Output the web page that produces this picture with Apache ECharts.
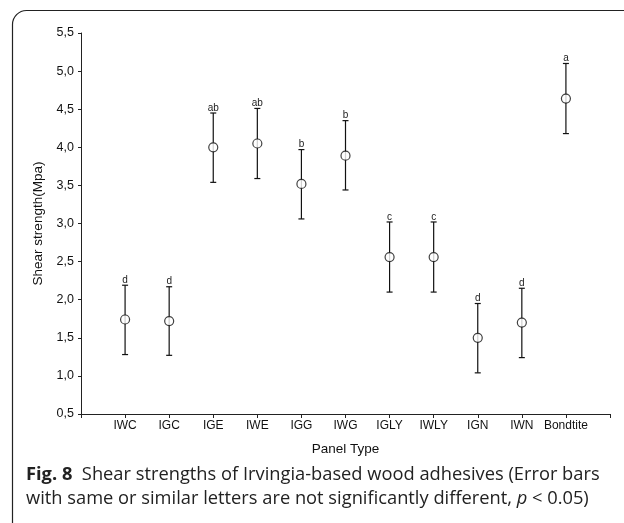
<!DOCTYPE html>
<html><head><meta charset="utf-8">
<script src="https://cdn.jsdelivr.net/npm/echarts@6/dist/echarts.min.js"></script>
<style>html,body{margin:0;padding:0;background:#fff}#c{width:624px;height:523px}</style>
</head><body><div id="c"></div>
<script>
const categories = ['IWC','IGC','IGE','IWE','IGG','IWG','IGLY','IWLY','IGN','IWN','Bondtite'];
const means = [1.74, 1.72, 4.00, 4.05, 3.52, 3.89, 2.56, 2.56, 1.50, 1.70, 4.64];
const upper = [2.19, 2.17, 4.45, 4.51, 3.97, 4.35, 3.02, 3.02, 1.95, 2.15, 5.10];
const lower = [1.28, 1.27, 3.54, 3.59, 3.06, 3.44, 2.10, 2.10, 1.04, 1.24, 4.18];
const letters = ['d','d','ab','ab','b','b','c','c','d','d','a'];
const yTicks = ['0,5','1,0','1,5','2,0','2,5','3,0','3,5','4,0','4,5','5,0','5,5'];

const chart = echarts.init(document.getElementById('c'), null, {renderer:'canvas'});
const errData = categories.map((c,i)=>[i+1, lower[i], upper[i], letters[i]]);
const meanData = categories.map((c,i)=>[i+1, means[i]]);
const font = 'Liberation Sans, Arial, sans-serif';

chart.setOption({
  animation:false,
  backgroundColor:'#fff',
  grid:{left:81, right:14, top:33, bottom:109, containLabel:false},
  xAxis:{
    type:'value', min:0, max:12, interval:1,
    name:'Panel Type', nameLocation:'middle', nameGap:28,
    nameTextStyle:{fontFamily:font, fontSize:13.5, color:'#111'},
    axisLine:{show:true, lineStyle:{color:'#222', width:1}},
    axisTick:{show:true, inside:false, length:4, lineStyle:{color:'#222'}},
    axisLabel:{fontFamily:font, fontSize:12, color:'#111', margin:6,
      formatter:v=> (v>=1 && v<=categories.length) ? categories[v-1] : ''},
    splitLine:{show:false}
  },
  yAxis:{
    type:'value', min:0.5, max:5.5, interval:0.5,
    name:'Shear strength(Mpa)', nameLocation:'middle', nameGap:30, nameRotate:90,
    nameTextStyle:{fontFamily:font, fontSize:13.5, color:'#111'},
    axisLine:{show:true, lineStyle:{color:'#222', width:1}},
    axisTick:{show:true, inside:false, length:3, lineStyle:{color:'#222'}},
    axisLabel:{fontFamily:font, fontSize:12.5, color:'#111', margin:7,
      formatter:(v)=>{const i=Math.round((v-0.5)/0.5); return yTicks[i]||'';}},
    splitLine:{show:false}
  },
  series:[
    {
      type:'custom',
      data:errData,
      renderItem:(params, api)=>{
        const x = api.value(0);
        const lo = api.coord([x, api.value(1)]);
        const hi = api.coord([x, api.value(2)]);
        const w = 3;
        const st = {stroke:'#111', lineWidth:1.2};
        return {type:'group', children:[
          {type:'line', shape:{x1:hi[0], y1:hi[1], x2:lo[0], y2:lo[1]}, style:st},
          {type:'line', shape:{x1:hi[0]-w, y1:hi[1], x2:hi[0]+w, y2:hi[1]}, style:st},
          {type:'line', shape:{x1:lo[0]-w, y1:lo[1], x2:lo[0]+w, y2:lo[1]}, style:st},
          {type:'text', style:{text:String(api.value(3)), x:hi[0], y:hi[1],
             align:'center', verticalAlign:'bottom', font:'10px Liberation Sans, Arial, sans-serif', fill:'#222'}}
        ]};
      },
      z:2
    },
    {
      type:'scatter',
      data:meanData,
      symbol:'circle', symbolSize:9,
      itemStyle:{color:'#fff', borderColor:'#111', borderWidth:1.2},
      z:3
    }
  ],
  graphic:[
    {type:'rect', shape:{x:12.5, y:10.5, width:700, height:600, r:[14,0,0,0]},
     style:{stroke:'#222', lineWidth:1.2, fill:null}},
    {type:'text', left:26, top:466, style:{
      rich:{b:{fontFamily:'Open Sans', fontWeight:'bold', fontSize:18.3, fill:'#222'},
            n:{fontFamily:'Open Sans', fontSize:18.3, fill:'#222'}},
      text:'{b|Fig. 8}{n|  Shear strengths of Irvingia-based wood adhesives (Error bars}',
      fill:'#222'}},
    {type:'text', left:26, top:490, style:{
      rich:{n:{fontFamily:'Open Sans', fontSize:18.3, fill:'#222'},
            i:{fontFamily:'Open Sans', fontStyle:'italic', fontSize:18.3, fill:'#222'}},
      text:'{n|with same or similar letters are not significantly different, }{i|p}{n| < 0.05)}',
      fill:'#222'}}
  ]
});
</script></body></html>
